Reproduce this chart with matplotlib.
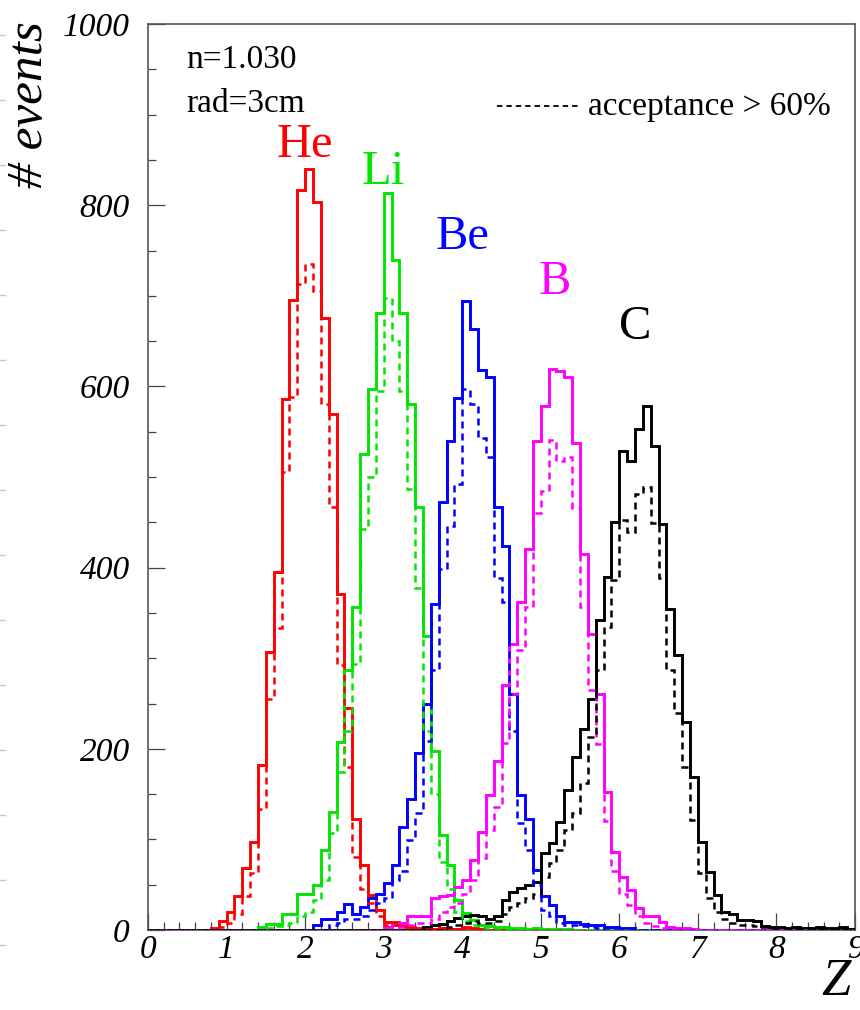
import numpy as np
import matplotlib
matplotlib.use("Agg")
import matplotlib.pyplot as plt
from matplotlib.ticker import MultipleLocator
from matplotlib.lines import Line2D

BIN = 0.1
z_edges = np.round(np.arange(0, 9.0001, BIN), 3)

species = ["He", "Li", "Be", "B", "C"]
colors = ["#ff0000", "#00e600", "#0000ff", "#ff00ff", "#000000"]
label_pos_z = [2.0, 3.0, 4.0, 5.18, 6.2]
label_pos_y = [866, 837, 765, 715, 666]

# all events (solid) and acceptance > 60% (dashed); first bin low edge given
he_all_start = 0.8
he_all = [2, 10, 20, 37, 68, 97, 182, 307, 395, 586, 695, 817, 840, 804, 676, 570,
          371, 245, 123, 72, 39, 22, 9, 9, 4, 3, 2, 1, 1, 2, 1, 1, 3, 2, 1]
he_acc_start = 0.9
he_acc = [3, 8, 18, 37, 63, 134, 255, 333, 505, 588, 713, 735, 705, 581, 467, 292,
          180, 81, 45, 30, 15, 6, 5, 3, 2, 1, 1, 1, 1, 1, 1, 2, 1]

li_all_start = 1.4
li_all = [3, 7, 7, 18, 18, 40, 40, 50, 88, 130, 208, 287, 356, 525, 597, 681, 813,
          739, 681, 581, 467, 325, 198, 105, 72, 33, 19, 11, 5, 4, 3, 3, 2, 2, 1, 2,
          1, 1, 1, 1]
li_acc_start = 1.5
li_acc = [2, 4, 5, 8, 15, 20, 33, 55, 107, 174, 220, 294, 443, 500, 595, 698, 650,
          595, 487, 377, 220, 150, 75, 45, 20, 10, 5, 3, 2, 2, 1, 1, 1]

be_all_start = 2.1
be_all = [5, 12, 12, 20, 29, 18, 25, 35, 40, 52, 72, 114, 145, 195, 250, 360, 472,
          540, 587, 694, 663, 618, 610, 467, 424, 261, 149, 123, 66, 37, 28, 15, 9,
          9, 7, 6, 6, 3, 3, 2, 2]
be_acc_start = 2.3
be_acc = [5, 8, 12, 12, 15, 22, 30, 35, 55, 65, 99, 129, 209, 287, 399, 446, 492,
          597, 581, 543, 522, 389, 362, 220, 118, 88, 50, 22, 15, 8, 6, 5, 4, 3, 2]

b_all_start = 3.0
b_all = [3, 5, 8, 15, 15, 15, 35, 37, 39, 48, 55, 77, 108, 149, 187, 270, 316, 362,
         421, 540, 578, 619, 617, 610, 537, 415, 327, 261, 152, 86, 59, 44, 24, 15,
         15, 9, 3, 2, 2, 1]
b_acc_start = 3.2
b_acc = [3, 5, 8, 8, 12, 20, 25, 30, 40, 55, 80, 110, 136, 206, 261, 309, 356, 460,
         485, 541, 518, 522, 466, 356, 265, 205, 120, 65, 40, 28, 15, 8, 4, 2]

c_all_start = 3.5
c_all = [3, 5, 7, 10, 13, 15, 17, 15, 12, 15, 33, 42, 46, 50, 53, 85, 96, 119, 155,
         191, 222, 255, 342, 390, 450, 529, 518, 553, 578, 534, 448, 354, 303, 230,
         169, 97, 64, 39, 20, 18, 11, 11, 10, 4, 3, 3, 2, 3, 2, 2, 3, 2, 2, 3, 1]
c_acc_start = 3.8
c_acc = [3, 5, 8, 10, 8, 8, 10, 18, 25, 30, 35, 40, 58, 74, 88, 110, 129, 162, 213,
         287, 334, 386, 452, 439, 481, 489, 449, 389, 287, 239, 180, 121, 63, 35, 20,
         12, 8, 6, 5, 4, 3, 2, 2, 2, 1, 1, 2, 1, 1, 1, 1, 1]

all_series = [(he_all_start, he_all), (li_all_start, li_all), (be_all_start, be_all),
              (b_all_start, b_all), (c_all_start, c_all)]
acc_series = [(he_acc_start, he_acc), (li_acc_start, li_acc), (be_acc_start, be_acc),
              (b_acc_start, b_acc), (c_acc_start, c_acc)]


def full(start, vals):
    out = np.zeros(len(z_edges) - 1)
    i0 = int(round(start / BIN))
    out[i0:i0 + len(vals)] = vals
    return out


SERIF = ["Liberation Serif", "DejaVu Serif"]
plt.rcParams["font.family"] = SERIF

fig = plt.figure(figsize=(8.6, 10.1), dpi=100)
ax = fig.add_axes([148 / 860, 80 / 1010, 707 / 860, 906 / 1010])

for (s, v), col in zip(all_series, colors):
    ax.stairs(full(s, v), z_edges, color=col, lw=2.1, baseline=0, zorder=3)
for (s, v), col in zip(acc_series, colors):
    ax.stairs(full(s, v), z_edges, color=col, lw=1.8, baseline=0,
              linestyle=(0, (2.8, 2.0)), zorder=4)

for name, col, zx, zy in zip(species, colors, label_pos_z, label_pos_y):
    ax.text(zx, zy, name, color=col, fontsize=35, ha="center", va="center",
            family=SERIF)

ax.set_xlim(0, 9)
ax.set_ylim(0, 1000)
ax.xaxis.set_major_locator(MultipleLocator(1))
ax.xaxis.set_minor_locator(MultipleLocator(0.2))
ax.yaxis.set_major_locator(MultipleLocator(200))
ax.yaxis.set_minor_locator(MultipleLocator(50))
ax.tick_params(axis="both", which="major", direction="in", length=12, width=0.9,
               color="#444444", top=False, right=False)
ax.tick_params(axis="both", which="minor", direction="in", length=6, width=0.9,
               color="#444444", top=False, right=False)
ax.tick_params(axis="x", which="major", pad=3, labelsize=24)
ax.tick_params(axis="y", which="major", pad=13, labelsize=24)
for lab in ax.get_xticklabels() + ax.get_yticklabels():
    lab.set_fontstyle("italic")
for sp in ax.spines.values():
    sp.set_color("#555555")
    sp.set_linewidth(1.2)

ax.text(0.0537, 0.960, "n=1.030", transform=ax.transAxes, fontsize=24,
        ha="left", va="center")
ax.text(0.0537, 0.912, "rad=3cm", transform=ax.transAxes, fontsize=24,
        ha="left", va="center")
ax.plot([0.493, 0.610], [0.909, 0.909], transform=ax.transAxes, color="black",
        lw=1.3, linestyle=(0, (3, 2.2)))
ax.text(0.622, 0.909, "acceptance > 60%", transform=ax.transAxes, fontsize=24,
        ha="left", va="center")

fig.text(30 / 860, 1 - 105 / 1010, "# events", rotation=90, ha="center",
         va="center", fontsize=37, style="italic")
fig.text(836 / 860, 1 - 982 / 1010, "Z", ha="center", va="center", fontsize=38,
         style="italic")

# faint light-blue page marks along the left edge of the scan
for k in range(15):
    yk = 1 - (35 + 65 * k) / 1010
    fig.add_artist(Line2D([0, 5 / 860], [yk, yk], transform=fig.transFigure,
                          color="#b8c8f0", lw=1.0))

fig.savefig("out.png", dpi=100)
